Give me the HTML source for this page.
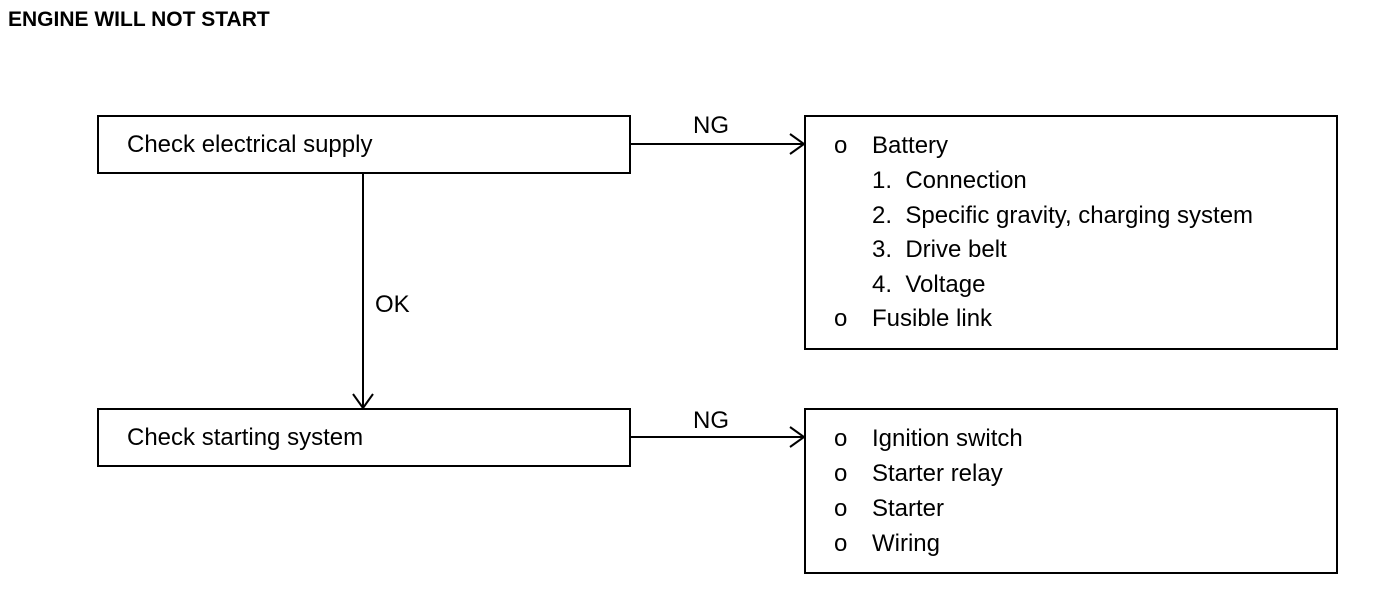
<!DOCTYPE html>
<html><head><meta charset="utf-8"><style>
html,body{margin:0;padding:0;background:#fff;}
svg{display:block;}
text{font-family:"Liberation Sans",Arial,sans-serif;font-size:24px;fill:#000;}
</style></head><body>
<svg width="1392" height="598" viewBox="0 0 1392 598" xmlns="http://www.w3.org/2000/svg">
<text x="8" y="26" style="font-weight:bold;font-size:21px">ENGINE WILL NOT START</text>
<g fill="none" stroke="#000" stroke-width="2">
<rect x="98" y="116" width="532" height="57"/>
<rect x="98" y="409" width="532" height="57"/>
<rect x="805" y="116" width="532" height="233"/>
<rect x="805" y="409" width="532" height="164"/>
<line x1="630" y1="144" x2="804" y2="144"/>
<polyline points="790,134 804,144 790,154"/>
<line x1="630" y1="437" x2="804" y2="437"/>
<polyline points="790,427 804,437 790,447"/>
<line x1="363" y1="173" x2="363" y2="408"/>
<polyline points="353,394 363,408 373,394"/>
</g>
<text x="127" y="152">Check electrical supply</text>
<text x="127" y="445">Check starting system</text>
<text x="693" y="133">NG</text>
<text x="693" y="428">NG</text>
<text x="375" y="312">OK</text>
<text x="834" y="153">o</text><text x="872" y="153">Battery</text>
<text x="872" y="188">1.&#160; Connection</text>
<text x="872" y="223">2.&#160; Specific gravity, charging system</text>
<text x="872" y="257">3.&#160; Drive belt</text>
<text x="872" y="292">4.&#160; Voltage</text>
<text x="834" y="326">o</text><text x="872" y="326">Fusible link</text>
<text x="834" y="446">o</text><text x="872" y="446">Ignition switch</text>
<text x="834" y="481">o</text><text x="872" y="481">Starter relay</text>
<text x="834" y="516">o</text><text x="872" y="516">Starter</text>
<text x="834" y="551">o</text><text x="872" y="551">Wiring</text>
</svg>
</body></html>
